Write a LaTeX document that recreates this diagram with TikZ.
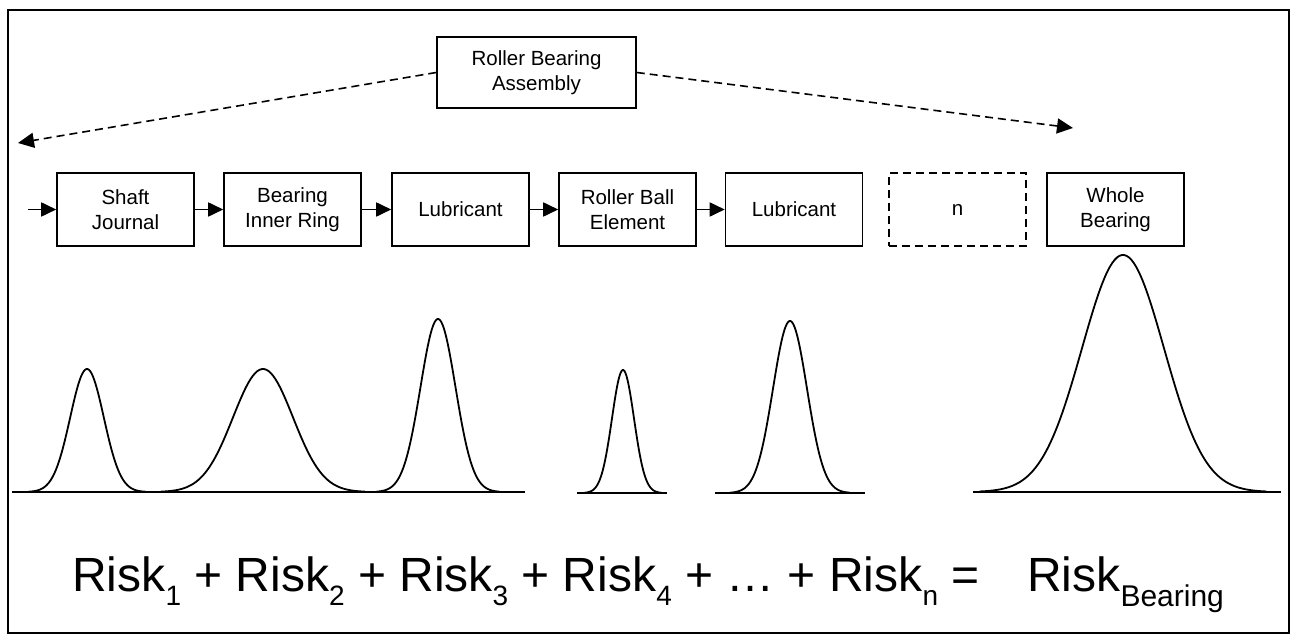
\documentclass[tikz,border=0pt]{standalone}
\usepackage{fontspec}
\setmainfont{Liberation Sans}
\usetikzlibrary{arrows.meta}
\newcommand{\rsub}[1]{\raisebox{-14pt}{\fontsize{28}{28}\selectfont #1}}
\newcommand{\rsubB}[1]{\raisebox{-15pt}{\fontsize{30}{30}\selectfont #1}}
\begin{document}
\begin{tikzpicture}[x=1pt,y=-1pt,
  blk/.style={draw,line width=1.6pt,minimum width=137pt,minimum height=73pt,inner sep=0pt,align=center,font=\fontsize{20.5}{25.5}\selectfont},
  flow/.style={line width=1.8pt,-{Triangle[length=15pt,width=14pt]}},
  dasharr/.style={line width=1.6pt,dash pattern=on 8pt off 5pt,-{Triangle[length=16pt,width=15pt]}},
  bell/.style={line width=1.8pt},
  baseln/.style={line width=1.8pt},
  eqtext/.style={anchor=base west,inner sep=0pt,font=\fontsize{48}{48}\selectfont}]
\useasboundingbox (0,0) rectangle (1294,636);
\fill[white] (0,0) rectangle (1294,636);
\draw[line width=2pt] (8,10) rectangle (1289,633);

% top box
\node[blk,minimum width=199pt,minimum height=71pt] (rba) at (536.5,72.5) {Roller Bearing\\Assembly};
\coordinate (lt) at (18,143);
\coordinate (rt) at (1073,128);
\draw[dasharr] (rba.west) -- (lt);
\draw[dasharr] (rba.east) -- (rt);

% row of boxes
\node[blk] (shaft) at (125.5,209.5) {Shaft\\Journal};
\node[blk] (inner) at (292.5,209.5) {Bearing\\Inner Ring};
\node[blk] (lub1) at (460.5,209.5) {Lubricant};
\node[blk] (roll) at (627.5,209.5) {Roller Ball\\Element};
\node[blk] (lub2) at (794,209.5) {Lubricant};
\node[blk,dash pattern=on 8pt off 5pt] (nbox) at (957.5,209.5) {n};
\node[blk] (whole) at (1115.5,209.5) {Whole\\Bearing};

\coordinate (in) at (28,209.5);
\draw[flow] (in) -- (shaft.west);
\draw[flow] (shaft.east) -- (inner.west);
\draw[flow] (inner.east) -- (lub1.west);
\draw[flow] (lub1.east) -- (roll.west);
\draw[flow] (roll.east) -- (lub2.west);

% distributions
\draw[baseln] (12,492) -- (525,492);
\draw[baseln] (577,493) -- (667,493);
\draw[baseln] (715,493) -- (865,493);
\draw[baseln] (973,492) -- (1281,492);
\draw[bell] plot[domain=-3.5:3.5,samples=90,smooth] ({87+16.8*\x},{492-123*exp(-\x*\x/2)});
\draw[bell] plot[domain=-3.4:3.4,samples=90,smooth] ({263+30*\x},{492-123*exp(-\x*\x/2)});
\draw[bell] plot[domain=-3.5:3.5,samples=90,smooth] ({438+17.5*\x},{492-173*exp(-\x*\x/2)});
\draw[bell] plot[domain=-3.5:3.5,samples=90,smooth] ({623+11*\x},{493-123*exp(-\x*\x/2)});
\draw[bell] plot[domain=-3.5:3.5,samples=90,smooth] ({790+17*\x},{493-172*exp(-\x*\x/2)});
\draw[bell] plot[domain=-3.5:3.5,samples=120,smooth] ({1123+41*\x},{492-237*exp(-\x*\x/2)});

% equation
\node[eqtext] (eql) at (72,591) {Risk\rsub{1} + Risk\rsub{2} + Risk\rsub{3} + Risk\rsub{4} + … + Risk\rsub{n} =};
\node[eqtext] (eqr) at (1027,591) {Risk\rsubB{Bearing}};
\end{tikzpicture}
\end{document}
